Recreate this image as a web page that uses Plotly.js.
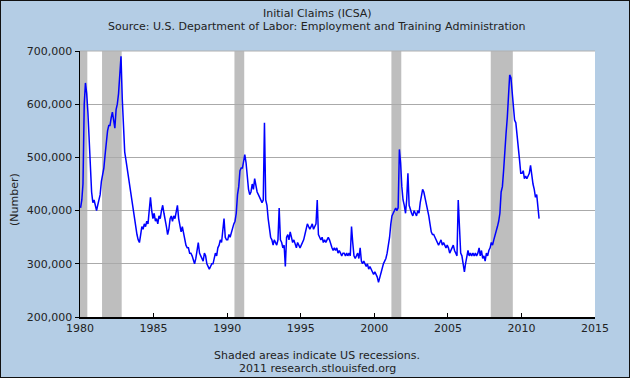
<!DOCTYPE html>
<html>
<head>
<meta charset="utf-8">
<script src="https://cdn.plot.ly/plotly-3.0.1.min.js"></script>
<style>
  html, body { margin: 0; padding: 0; background: #b4cde5; }
  #chart { width: 630px; height: 378px; box-sizing: border-box; border: 1px solid #111; }
</style>
</head>
<body>
<div id="chart"></div>
<script>
// Initial Claims (ICSA), monthly readings estimated from the chart, starting Jan 1980
const startYear = 1980;
const claims1980 = [405000, 420000, 450000, 600000, 640000, 620000, 585000, 530000, 490000, 435000, 415000, 420000];
const claims1981 = [410000, 400000, 410000, 420000, 430000, 455000, 470000, 480000, 505000, 530000, 550000, 560000];
const claims1982 = [560000, 575000, 585000, 570000, 555000, 590000, 600000, 620000, 665000, 690000, 610000, 540000];
const claims1983 = [510000, 495000, 480000, 470000, 450000, 435000, 420000, 405000, 390000, 370000, 355000, 345000];
const claims1984 = [340000, 355000, 370000, 365000, 375000, 370000, 380000, 375000, 395000, 425000, 400000, 385000];
const claims1985 = [395000, 380000, 385000, 375000, 390000, 385000, 400000, 410000, 395000, 385000, 370000, 355000];
const claims1986 = [365000, 385000, 390000, 380000, 390000, 385000, 395000, 410000, 385000, 375000, 360000, 370000];
const claims1987 = [355000, 345000, 335000, 330000, 330000, 320000, 320000, 315000, 305000, 300000, 310000, 330000];
const claims1988 = [340000, 320000, 315000, 310000, 305000, 320000, 315000, 300000, 295000, 290000, 295000, 300000];
const claims1989 = [300000, 310000, 320000, 315000, 330000, 335000, 345000, 340000, 360000, 385000, 350000, 345000];
const claims1990 = [345000, 355000, 350000, 360000, 365000, 375000, 380000, 395000, 430000, 445000, 475000, 480000];
const claims1991 = [480000, 495000, 505000, 490000, 460000, 440000, 430000, 435000, 450000, 440000, 460000, 445000];
const claims1992 = [435000, 430000, 425000, 420000, 415000, 420000, 565000, 420000, 410000, 385000, 360000, 350000];
const claims1993 = [345000, 335000, 345000, 340000, 335000, 345000, 405000, 345000, 340000, 330000, 335000, 295000];
const claims1994 = [350000, 355000, 345000, 360000, 350000, 340000, 345000, 335000, 330000, 340000, 335000, 330000];
const claims1995 = [335000, 340000, 345000, 355000, 365000, 375000, 370000, 365000, 370000, 375000, 365000, 370000];
const claims1996 = [375000, 420000, 355000, 350000, 345000, 350000, 340000, 345000, 340000, 345000, 350000, 345000];
const claims1997 = [335000, 330000, 325000, 330000, 325000, 330000, 320000, 325000, 320000, 315000, 320000, 320000];
const claims1998 = [315000, 320000, 315000, 320000, 315000, 370000, 340000, 315000, 310000, 315000, 320000, 310000];
const claims1999 = [330000, 305000, 300000, 305000, 300000, 295000, 300000, 290000, 295000, 290000, 285000, 280000];
const claims2000 = [285000, 280000, 275000, 265000, 275000, 285000, 295000, 300000, 305000, 310000, 320000, 335000];
const claims2001 = [350000, 375000, 390000, 395000, 400000, 405000, 400000, 405000, 515000, 490000, 445000, 420000];
const claims2002 = [410000, 395000, 420000, 470000, 410000, 400000, 395000, 390000, 400000, 395000, 390000, 400000];
const claims2003 = [395000, 415000, 430000, 440000, 435000, 425000, 415000, 400000, 390000, 375000, 360000, 355000];
const claims2004 = [355000, 350000, 345000, 340000, 335000, 340000, 345000, 335000, 340000, 335000, 330000, 335000];
const claims2005 = [330000, 320000, 325000, 330000, 335000, 325000, 320000, 315000, 420000, 365000, 320000, 315000];
const claims2006 = [295000, 285000, 300000, 310000, 325000, 315000, 320000, 315000, 320000, 315000, 320000, 315000];
const claims2007 = [320000, 330000, 315000, 325000, 310000, 315000, 305000, 320000, 315000, 325000, 330000, 340000];
const claims2008 = [335000, 345000, 355000, 360000, 370000, 380000, 395000, 435000, 445000, 475000, 520000, 545000];
const claims2009 = [575000, 630000, 655000, 650000, 625000, 610000, 570000, 565000, 545000, 525000, 495000, 470000];
const claims2010 = [470000, 475000, 460000, 465000, 460000, 465000, 470000, 485000, 465000, 450000, 440000, 425000];
const claims2011 = [430000, 400000, 385000];

const recessionStarts = ['1980-01-01', '1981-07-01', '1990-07-01', '2001-03-01', '2007-12-01'];
const recessionEnds   = ['1980-07-01', '1982-11-01', '1991-03-01', '2001-11-01', '2009-06-01'];

const yearTickLabels = ['1980', '1985', '1990', '1995', '2000', '2005', '2010', '2015'];
const valueTickLabels = ['200,000', '300,000', '400,000', '500,000', '600,000', '700,000'];
const valueTicks = [200000, 300000, 400000, 500000, 600000, 700000];

const chartTitle = 'Initial Claims (ICSA)';
const chartSubtitle = 'Source: U.S. Department of Labor: Employment and Training Administration';
const footer1 = 'Shaded areas indicate US recessions.';
const footer2 = '2011 research.stlouisfed.org';
const yLabel = '(Number)';

const yearly = [claims1980, claims1981, claims1982, claims1983, claims1984, claims1985, claims1986, claims1987,
  claims1988, claims1989, claims1990, claims1991, claims1992, claims1993, claims1994, claims1995, claims1996,
  claims1997, claims1998, claims1999, claims2000, claims2001, claims2002, claims2003, claims2004, claims2005,
  claims2006, claims2007, claims2008, claims2009, claims2010, claims2011];

const dates = [], values = [];
yearly.forEach((arr, i) => {
  arr.forEach((v, m) => {
    dates.push((startYear + i) + '-' + String(m + 1).padStart(2, '0') + '-15');
    values.push(v);
  });
});

const font = 'DejaVu Sans, Verdana, sans-serif';
const textColor = '#222222';

const shapes = recessionStarts.map((s, i) => ({
  type: 'rect', xref: 'x', yref: 'paper', x0: s, x1: recessionEnds[i], y0: 0, y1: 1,
  fillcolor: '#bebebe', line: { width: 0 }, layer: 'between'
}));
shapes.push({ type: 'line', xref: 'paper', yref: 'paper', x0: 0, x1: 1, y0: 1, y1: 1,
  line: { color: '#b0b0b0', width: 1 }, layer: 'above' });

const W = 515, H = 266;
function ann(text, px, py, extra) {
  return Object.assign({ text: text, xref: 'paper', yref: 'paper', x: px, y: py,
    xanchor: 'center', yanchor: 'middle', showarrow: false,
    font: { family: font, size: 11, color: textColor } }, extra || {});
}
const annotations = [
  ann(chartTitle, (316 - 79) / W, (316 - 13) / H),
  ann(chartSubtitle, (316 - 79) / W, (316 - 25) / H),
  ann(footer1, (316 - 79) / W, (316 - 354.5) / H),
  ann(footer2, (316 - 79) / W, (316 - 367) / H),
  ann(yLabel, (13 - 79) / W, (316 - 199) / H, { textangle: -90 })
];

const trace = {
  x: dates, y: values, type: 'scatter', mode: 'lines',
  line: { color: '#0000ff', width: 1.5 }, hoverinfo: 'skip'
};

const layout = {
  width: 628, height: 376,
  margin: { l: 79, r: 34, t: 50, b: 60, pad: 0 },
  paper_bgcolor: '#b4cde5', plot_bgcolor: '#ffffff',
  showlegend: false,
  font: { family: font, size: 11, color: textColor },
  xaxis: {
    type: 'date', range: ['1980-01-01', '2015-01-01'],
    tickmode: 'array',
    tickvals: yearTickLabels.map(y => y + '-01-01'),
    ticktext: yearTickLabels,
    ticks: 'inside', ticklen: 4, tickcolor: '#000', tickwidth: 1,
    showline: true, linecolor: '#000', linewidth: 1.5,
    showgrid: false, zeroline: false,
    tickfont: { family: font, size: 11, color: textColor }
  },
  yaxis: {
    range: [200000, 700000],
    tickmode: 'array', tickvals: valueTicks, ticktext: valueTickLabels,
    ticks: 'outside', ticklen: 4, tickcolor: '#000', tickwidth: 1,
    showline: true, linecolor: '#000', linewidth: 1.5,
    showgrid: true, gridcolor: '#aaaaaa', gridwidth: 1, zeroline: false,
    tickfont: { family: font, size: 11, color: textColor }
  },
  shapes: shapes,
  annotations: annotations
};

Plotly.newPlot('chart', [trace], layout, { staticPlot: true, displayModeBar: false });
</script>
</body>
</html>
